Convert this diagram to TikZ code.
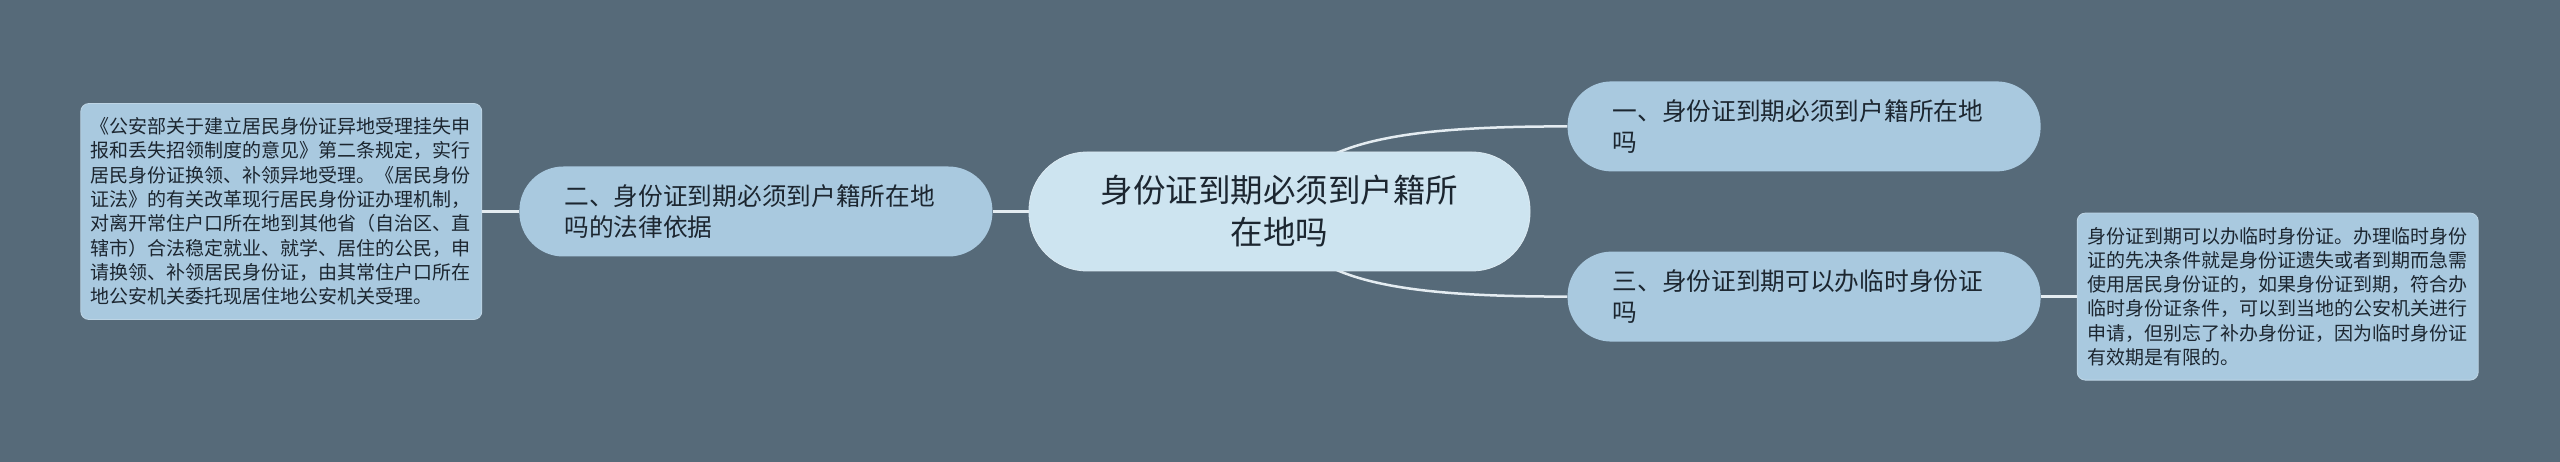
\documentclass[tikz,border=0pt]{standalone}
\usepackage{fontspec}
\newfontfamily\cjkfont{Noto Sans CJK SC}
\usetikzlibrary{positioning}

\definecolor{bgcol}{RGB}{86,106,121}
\definecolor{rootfill}{RGB}{205,228,240}
\definecolor{topicfill}{RGB}{169,201,223}
\definecolor{linkcol}{RGB}{228,236,241}
\definecolor{txtcol}{RGB}{28,38,48}

\pgfdeclarelayer{bg}
\pgfdeclarelayer{links}
\pgfsetlayers{bg,links,main}

\tikzset{
  rootnode/.style={fill=rootfill, draw=linkcol!60!rootfill, line width=0.8pt, rounded corners=58pt,
    minimum width=501pt, minimum height=119pt, align=center,
    font=\cjkfont\fontsize{32.5pt}{42pt}\selectfont},
  topicnode/.style={fill=topicfill, rounded corners=44pt, text width=383pt,
    inner xsep=45pt, inner ysep=4pt, minimum height=90pt, align=left,
    font=\cjkfont\fontsize{24.7pt}{31pt}\selectfont},
  leafnode/.style={fill=topicfill, draw=linkcol!35!topicfill, line width=0.8pt, rounded corners=8pt,
    text width=381pt, inner xsep=10pt, inner ysep=10pt, align=left,
    font=\cjkfont\fontsize{19pt}{24.3pt}\selectfont},
  link/.style={draw=linkcol, line width=2.5pt}
}

\begin{document}
\begin{tikzpicture}[x=1pt, y=1pt, every node/.style={text=txtcol}]
  \begin{pgfonlayer}{bg}
    \fill[bgcol] (0,0) rectangle (2560,-462);
  \end{pgfonlayer}
  \useasboundingbox (0,0) rectangle (2560,-462);

  % root
  \node[rootnode] (root) at (1279.5,-211.5) {身份证到期必须到户籍所\\在地吗};

  % left side
  \node[topicnode, left=36pt of root] (legal) {二、身份证到期必须到户籍所在地\\吗的法律依据};
  \node[leafnode, minimum height=216pt, left=37pt of legal] (legaltext)
    {《公安部关于建立居民身份证异地受理挂失申\\
     报和丢失招领制度的意见》第二条规定，实行\\
     居民身份证换领、补领异地受理。《居民身份\\
     证法》的有关改革现行居民身份证办理机制，\\
     对离开常住户口所在地到其他省（自治区、直\\
     辖市）合法稳定就业、就学、居住的公民，申\\
     请换领、补领居民身份证，由其常住户口所在\\
     地公安机关委托现居住地公安机关受理。};

  % right side
  \node[topicnode, above right=-20pt and 37pt of root] (mustgo) {一、身份证到期必须到户籍所在地\\吗};
  \node[topicnode, below right=-20pt and 37pt of root] (temp) {三、身份证到期可以办临时身份证\\吗};
  \node[leafnode, minimum height=167pt, right=36pt of temp] (temptext)
    {身份证到期可以办临时身份证。办理临时身份\\
     证的先决条件就是身份证遗失或者到期而急需\\
     使用居民身份证的，如果身份证到期，符合办\\
     临时身份证条件，可以到当地的公安机关进行\\
     申请，但别忘了补办身份证，因为临时身份证\\
     有效期是有限的。};

  % links
  \begin{pgfonlayer}{links}
    \draw[link] (root.center) .. controls +(21,71) and +(-167,0) .. (mustgo.west);
    \draw[link] (root.center) .. controls +(21,-71) and +(-167,0) .. (temp.west);
  \end{pgfonlayer}
  \draw[link] (root.west) -- (legal.east);
  \draw[link] (legal.west) -- (legaltext.east);
  \draw[link] (temp.east) -- (temptext.west);
\end{tikzpicture}
\end{document}
